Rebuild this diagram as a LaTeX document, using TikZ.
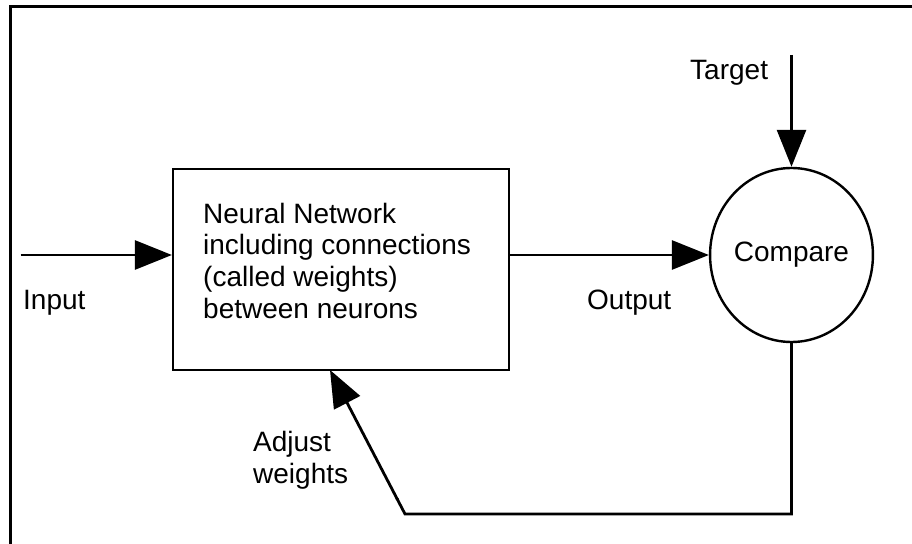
\documentclass[tikz,border=0pt]{standalone}
\usepackage{fontspec}
\setmainfont{Liberation Sans}
\usetikzlibrary{arrows.meta,shapes.geometric,calc}

\begin{document}
\begin{tikzpicture}[x=1bp,y=-1bp,
  lbl/.style={inner sep=0pt,anchor=base west,font=\fontsize{28bp}{31.7bp}\selectfont,align=left},
  block/.style={draw,line width=2.2bp,minimum width=336bp,minimum height=200.7bp,inner sep=0pt},
  cmpnode/.style={draw,ellipse,line width=2.4bp,minimum width=153bp,minimum height=174bp,inner sep=0pt,
    font=\fontsize{28bp}{31.7bp}\selectfont},
  arr/.style={line width=2.8bp,-{Triangle[length=37bp,width=29bp]}},
  wire/.style={line width=2.8bp}]
\useasboundingbox (0,0) rectangle (912,544);

% open frame (top and left edges)
\draw[line width=3bp] (912,7) -- (10,7) -- (10,544);

% blocks (multi-line labels are anchored at the baseline of their last line)
\node[block] (nn) at (341,269.7) {};
\node[lbl] (nntext) at (203,318.4) {Neural Network\\including connections\\(called weights)\\between neurons};
\node[cmpnode] (cmp) at (791.5,255) {Compare};

% labels
\node[lbl] (inlbl) at (23,310) {Input};
\node[lbl] (outlbl) at (587,310) {Output};
\node[lbl] (tgtlbl) at (690,80) {Target};
\node[lbl] (adjlbl) at (253,483.4) {Adjust\\weights};

% free ends and bends
\coordinate (instart) at (20.7,255);
\coordinate (tgtstart) at (791.5,55);
\coordinate (fbcorner) at (405,514);
\coordinate (fbtip) at (330,370);

% connectors
\draw[arr] (instart) -- (instart -| nn.west);
\draw[arr] (cmp.west -| nn.east) -- (cmp.west);
\draw[arr] (tgtstart) -- (cmp.north);
\draw[wire,line join=miter] (cmp.south) -- (cmp.south |- fbcorner) -- (fbcorner) -- ($(fbcorner)!18bp!(fbtip)$);
\draw[arr] ($(fbcorner)!16bp!(fbtip)$) -- (fbtip);
\end{tikzpicture}
\end{document}
